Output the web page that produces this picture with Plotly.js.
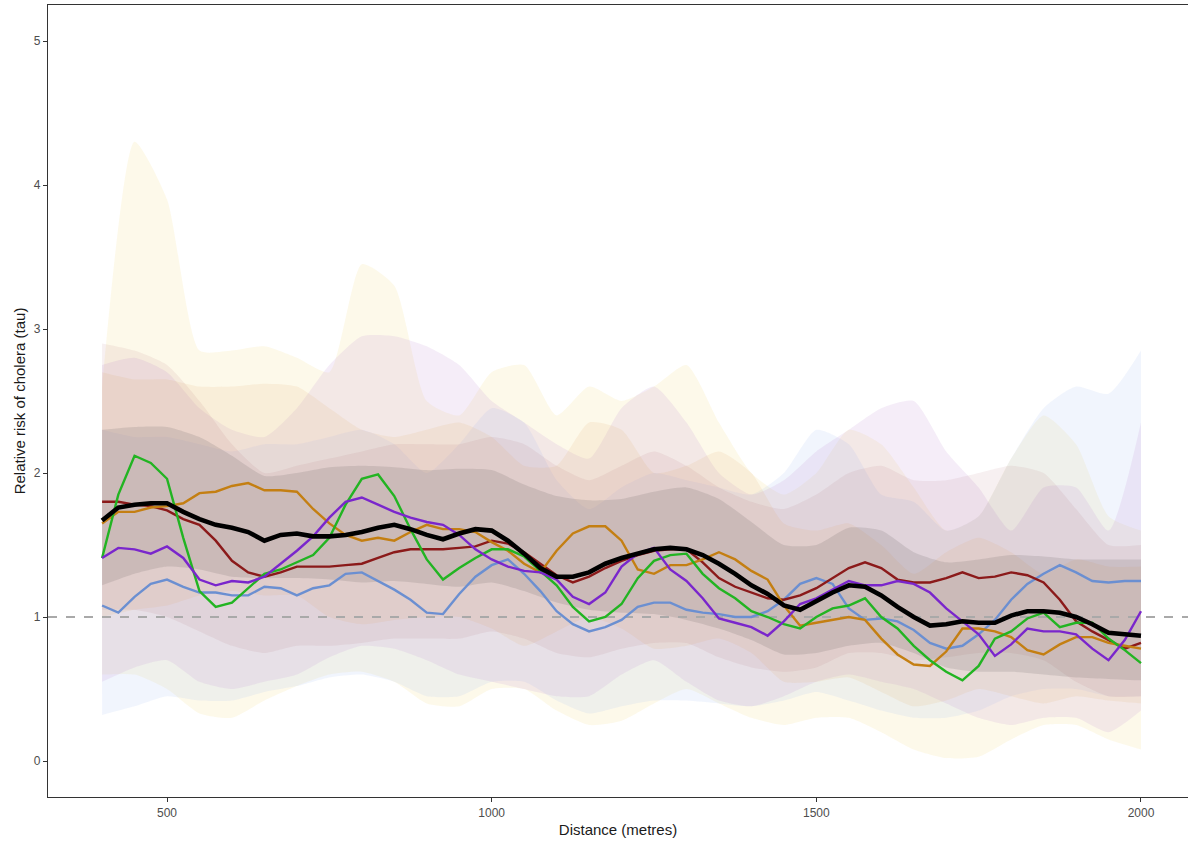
<!DOCTYPE html>
<html>
<head>
<meta charset="utf-8">
<script src="https://cdn.plot.ly/plotly-3.0.1.min.js"></script>
<style>html,body{margin:0;padding:0;background:#fff;}#chart{width:1188px;height:841px;}</style>
</head>
<body>
<div id="chart"></div>
<script>
// distances for the lines (metres)
const distLine = [400,425,450,475,500,525,550,575,600,625,650,675,700,725,750,775,800,825,850,875,900,925,950,975,1000,1025,1050,1075,1100,1125,1150,1175,1200,1225,1250,1275,1300,1325,1350,1375,1400,1425,1450,1475,1500,1525,1550,1575,1600,1625,1650,1675,1700,1725,1750,1775,1800,1825,1850,1875,1900,1925,1950,1975,2000];

const tauBlack = [1.67,1.76,1.78,1.79,1.79,1.73,1.68,1.64,1.62,1.59,1.53,1.57,1.58,1.56,1.56,1.57,1.59,1.62,1.64,1.61,1.57,1.54,1.58,1.61,1.60,1.53,1.44,1.34,1.28,1.28,1.31,1.37,1.41,1.44,1.47,1.48,1.47,1.43,1.37,1.30,1.22,1.16,1.08,1.05,1.11,1.17,1.22,1.21,1.15,1.07,1.00,0.94,0.95,0.97,0.96,0.96,1.01,1.04,1.04,1.03,1.00,0.95,0.89,0.88,0.87];
const tauRed = [1.80,1.80,1.78,1.77,1.74,1.68,1.64,1.53,1.39,1.31,1.28,1.31,1.35,1.35,1.35,1.36,1.37,1.41,1.45,1.47,1.47,1.47,1.48,1.49,1.53,1.51,1.45,1.37,1.29,1.24,1.28,1.34,1.39,1.43,1.46,1.47,1.47,1.38,1.27,1.21,1.17,1.13,1.12,1.15,1.20,1.27,1.34,1.38,1.34,1.26,1.24,1.24,1.27,1.31,1.27,1.28,1.31,1.29,1.24,1.12,0.97,0.90,0.84,0.78,0.82];
const tauOrange = [1.65,1.73,1.73,1.76,1.77,1.79,1.86,1.87,1.91,1.93,1.88,1.88,1.87,1.75,1.65,1.57,1.53,1.55,1.53,1.59,1.64,1.61,1.61,1.59,1.52,1.46,1.37,1.31,1.46,1.58,1.63,1.63,1.53,1.33,1.30,1.36,1.36,1.40,1.45,1.40,1.32,1.26,1.08,0.94,0.96,0.98,1.00,0.98,0.85,0.74,0.67,0.66,0.76,0.92,0.92,0.90,0.86,0.77,0.74,0.81,0.86,0.86,0.82,0.80,0.78];
const tauGreen = [1.41,1.85,2.12,2.07,1.96,1.55,1.18,1.07,1.10,1.20,1.30,1.33,1.38,1.43,1.55,1.78,1.96,1.99,1.84,1.61,1.40,1.26,1.34,1.41,1.47,1.47,1.42,1.32,1.22,1.07,0.97,1.00,1.09,1.27,1.39,1.43,1.44,1.30,1.20,1.13,1.04,1.00,0.95,0.92,1.00,1.06,1.08,1.13,1.00,0.92,0.80,0.70,0.62,0.56,0.66,0.85,0.90,0.99,1.03,0.93,0.96,0.96,0.85,0.77,0.68];
const tauPurple = [1.41,1.48,1.47,1.44,1.49,1.41,1.26,1.22,1.25,1.24,1.28,1.37,1.46,1.56,1.69,1.80,1.83,1.78,1.73,1.69,1.66,1.64,1.57,1.47,1.40,1.35,1.32,1.31,1.26,1.14,1.09,1.17,1.35,1.44,1.48,1.33,1.25,1.13,0.99,0.96,0.93,0.87,0.97,1.09,1.13,1.19,1.25,1.22,1.22,1.25,1.23,1.17,1.06,0.97,0.88,0.73,0.81,0.92,0.90,0.90,0.88,0.78,0.70,0.84,1.04];
const tauBlue = [1.08,1.03,1.14,1.23,1.26,1.21,1.17,1.17,1.15,1.15,1.21,1.20,1.15,1.20,1.22,1.30,1.31,1.25,1.19,1.12,1.03,1.02,1.16,1.28,1.36,1.40,1.30,1.18,1.04,0.95,0.90,0.93,0.98,1.07,1.10,1.10,1.05,1.03,1.02,1.00,1.00,1.04,1.12,1.23,1.27,1.23,1.06,0.98,0.99,0.97,0.91,0.82,0.78,0.80,0.88,0.98,1.12,1.23,1.30,1.36,1.31,1.25,1.24,1.25,1.25];

// distances for the confidence ribbons (metres)
const distBand = [400,450,500,550,600,650,700,750,800,850,900,950,1000,1050,1100,1150,1200,1250,1300,1350,1400,1450,1500,1550,1600,1650,1700,1750,1800,1850,1900,1950,2000];

const greenHi = [2.60,4.30,3.90,2.85,2.85,2.88,2.80,2.70,3.45,3.30,2.50,2.40,2.70,2.75,2.40,2.60,2.50,2.60,2.75,2.35,2.00,1.85,2.00,2.30,2.20,1.90,1.60,1.70,2.10,2.40,2.20,1.70,1.60];
const greenLo = [0.60,0.60,0.50,0.33,0.30,0.42,0.52,0.60,0.62,0.55,0.40,0.38,0.50,0.50,0.35,0.25,0.28,0.40,0.50,0.40,0.30,0.25,0.30,0.30,0.20,0.08,0.02,0.03,0.15,0.25,0.25,0.15,0.08];
const purpleHi = [2.75,2.80,2.70,2.45,2.30,2.25,2.45,2.75,2.95,2.95,2.88,2.75,2.50,2.35,2.20,2.10,2.45,2.60,2.35,2.00,1.85,1.95,2.15,2.30,2.45,2.50,2.15,1.90,1.60,1.90,1.90,1.60,2.35];
const purpleLo = [0.55,0.65,0.70,0.55,0.50,0.55,0.60,0.72,0.80,0.78,0.70,0.60,0.55,0.50,0.45,0.45,0.60,0.70,0.55,0.42,0.38,0.45,0.55,0.60,0.55,0.50,0.40,0.30,0.25,0.30,0.30,0.20,0.35];
const blueHi = [2.30,2.25,2.25,2.20,2.15,2.20,2.20,2.25,2.30,2.20,2.00,2.20,2.45,2.35,1.95,1.75,1.90,2.00,1.95,1.90,1.85,2.00,2.30,2.20,1.85,1.80,1.60,1.70,2.10,2.45,2.60,2.55,2.85];
const blueLo = [0.32,0.38,0.45,0.42,0.42,0.48,0.52,0.58,0.60,0.55,0.45,0.45,0.55,0.55,0.42,0.33,0.38,0.42,0.42,0.40,0.38,0.42,0.48,0.42,0.35,0.30,0.30,0.35,0.45,0.50,0.50,0.45,0.45];
const orangeHi = [2.70,2.65,2.65,2.60,2.60,2.62,2.60,2.45,2.30,2.25,2.30,2.35,2.25,2.05,2.05,2.35,2.30,2.00,2.05,2.15,2.00,1.65,1.60,1.65,1.50,1.30,1.45,1.55,1.45,1.30,1.40,1.35,1.35];
const orangeLo = [1.00,1.05,1.08,1.15,1.18,1.15,1.15,1.00,0.95,0.98,1.00,1.00,0.92,0.80,0.90,1.00,0.92,0.78,0.80,0.85,0.75,0.55,0.55,0.58,0.48,0.38,0.42,0.50,0.45,0.40,0.45,0.42,0.40];
const redHi = [2.90,2.85,2.75,2.50,2.20,2.00,2.05,2.10,2.15,2.20,2.20,2.20,2.25,2.20,2.05,1.95,2.05,2.15,2.05,1.90,1.80,1.75,1.85,2.00,2.05,1.95,1.95,2.00,2.05,2.00,1.75,1.50,1.50];
const redLo = [1.05,1.05,1.00,0.90,0.80,0.75,0.80,0.80,0.82,0.85,0.85,0.85,0.90,0.85,0.75,0.72,0.78,0.82,0.82,0.72,0.65,0.62,0.65,0.75,0.75,0.70,0.72,0.75,0.75,0.70,0.55,0.45,0.45];
const blackHi = [2.30,2.32,2.32,2.25,2.12,1.98,2.00,2.04,2.05,2.04,2.02,2.03,2.02,1.92,1.84,1.81,1.82,1.87,1.90,1.82,1.66,1.50,1.50,1.62,1.60,1.45,1.38,1.40,1.43,1.42,1.40,1.40,1.40];
const blackLo = [1.22,1.30,1.35,1.33,1.28,1.27,1.27,1.26,1.24,1.25,1.23,1.21,1.24,1.18,1.10,1.05,1.03,1.02,0.98,0.92,0.84,0.74,0.75,0.80,0.82,0.75,0.65,0.62,0.62,0.60,0.58,0.57,0.56];

const refLevel = 1;
const xRange = [316.7, 2072.4];
const yRange = [-0.25, 5.25];
const xTicks = [500,1000,1500,2000];
const yTicks = [0,1,2,3,4,5];

const traces = [];
function band(lo, hi, fill) {
  traces.push({x: distBand, y: lo, type: 'scatter', mode: 'lines', line: {width: 0, shape: 'spline', smoothing: 0.6}, hoverinfo: 'skip', showlegend: false});
  traces.push({x: distBand, y: hi, type: 'scatter', mode: 'lines', fill: 'tonexty', fillcolor: fill, line: {width: 0, shape: 'spline', smoothing: 0.6}, hoverinfo: 'skip', showlegend: false});
}
band(greenLo, greenHi, 'rgba(245,228,160,0.22)');
band(blueLo, blueHi, 'rgba(175,200,245,0.18)');
band(purpleLo, purpleHi, 'rgba(195,150,215,0.17)');
band(orangeLo, orangeHi, 'rgba(225,175,110,0.14)');
band(redLo, redHi, 'rgba(150,70,80,0.08)');
band(blackLo, blackHi, 'rgba(100,92,92,0.17)');

// reference line at tau = 1, drawn above the ribbons and below the lines
traces.push({x: xRange, y: [refLevel, refLevel], type: 'scatter', mode: 'lines', line: {color: '#a9a9a9', width: 2, dash: 'dash'}, hoverinfo: 'skip', showlegend: false});

function line(y, color, w) {
  traces.push({x: distLine, y: y, type: 'scatter', mode: 'lines', line: {color: color, width: w}, showlegend: false});
}
line(tauBlue, '#6b8fd1', 2.4);
line(tauRed, '#8b1a1a', 2.4);
line(tauOrange, '#c47f12', 2.4);
line(tauGreen, '#22b422', 2.4);
line(tauPurple, '#7a26cc', 2.4);
line(tauBlack, '#000000', 4.6);

const font = 'Liberation Sans, Arial, sans-serif';
const layout = {
  width: 1188, height: 841,
  margin: {l: 48, r: 0, t: 5, b: 44},
  paper_bgcolor: '#ffffff', plot_bgcolor: '#ffffff',
  showlegend: false,
  font: {family: font},
  xaxis: {
    range: xRange, tickvals: xTicks, ticktext: xTicks.map(String),
    showgrid: false, zeroline: false, showline: true, linecolor: '#333333', linewidth: 1.2, mirror: true,
    ticks: 'outside', ticklen: 4, tickcolor: '#333333', tickfont: {size: 12, color: '#4d4d4d', family: font},
    title: {text: 'Distance (metres)', font: {size: 15, color: '#1a1a1a', family: font}, standoff: 6}
  },
  yaxis: {
    range: yRange, tickvals: yTicks, ticktext: yTicks.map(String),
    showgrid: false, zeroline: false, showline: true, linecolor: '#333333', linewidth: 1.2, mirror: true,
    ticks: 'outside', ticklen: 4, tickcolor: '#333333', tickfont: {size: 12, color: '#4d4d4d', family: font},
    title: {text: 'Relative risk of cholera (tau)', font: {size: 15, color: '#1a1a1a', family: font}, standoff: 4}
  }
};
Plotly.newPlot('chart', traces, layout, {staticPlot: true, displayModeBar: false});
</script>
</body>
</html>
